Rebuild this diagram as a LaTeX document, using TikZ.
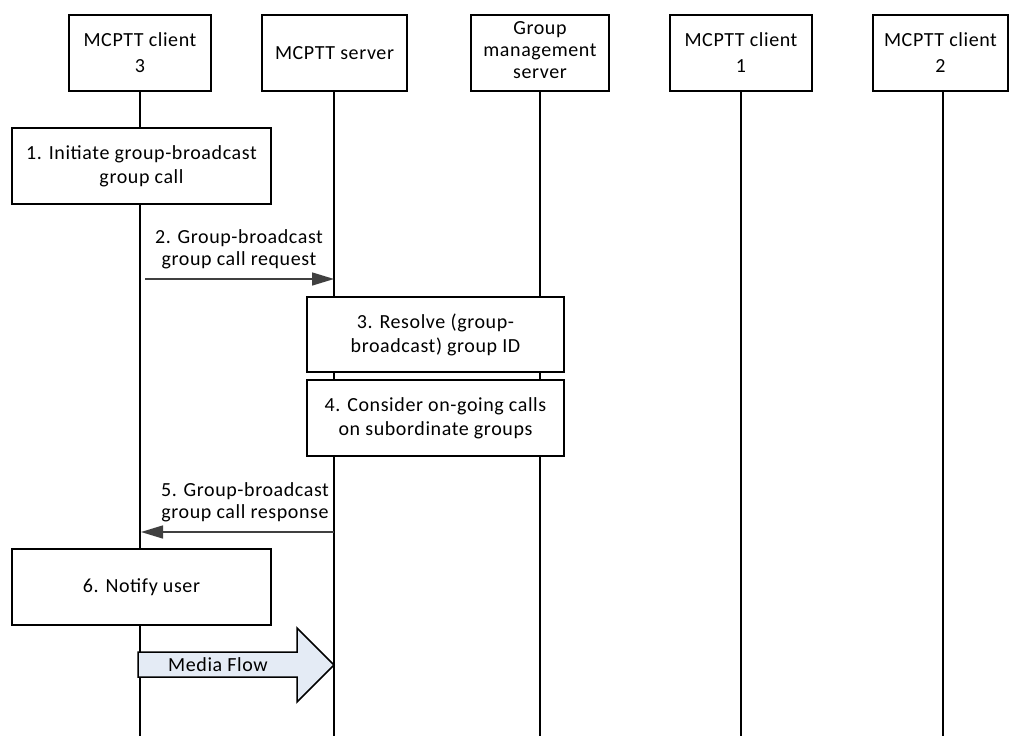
\documentclass[tikz,border=0pt]{standalone}
\usepackage{fontspec}
\setmainfont{Carlito}[LetterSpace=3]
\usetikzlibrary{arrows.meta}
\definecolor{flowfill}{HTML}{E4EBF5}
\definecolor{headgrey}{HTML}{404040}
\tikzset{
  base/.style={font=\fontsize{20bp}{22bp}\selectfont, align=center, inner sep=0pt},
  header/.style={base, draw=black, line width=1.5bp, fill=white, minimum width=142bp, minimum height=76bp},
  stepbox/.style={base, draw=black, line width=1.5bp, fill=white, minimum width=258bp, minimum height=76bp},
  lifeline/.style={draw=black, line width=1.5bp},
  msg/.style={draw=headgrey, line width=1.5bp, -{Triangle[length=22bp,width=13bp]}},
  lbl/.style={base},
  flow/.style={draw=black, line width=1.5bp, fill=flowfill, line join=miter}
}
\begin{document}
\begin{tikzpicture}[x=1bp,y=-1bp]
\useasboundingbox (0,0) rectangle (1009,736);
% lifelines (drawn first, boxes cover them)
\coordinate (e3) at (140,736);
\coordinate (es) at (334,736);
\coordinate (eg) at (540,736);
\coordinate (e1) at (741,736);
\coordinate (e2) at (943,736);
\coordinate (t3) at (140,53);
\coordinate (ts) at (334,53);
\coordinate (tg) at (540,53);
\coordinate (t1) at (741,53);
\coordinate (t2) at (943,53);
\draw[lifeline] (t3) -- (e3);
\draw[lifeline] (ts) -- (es);
\draw[lifeline] (tg) -- (eg);
\draw[lifeline] (t1) -- (e1);
\draw[lifeline] (t2) -- (e2);
% headers
\node[header] (h3) at (140,53) {MCPTT client\\[4bp]3};
\node[header, minimum width=145bp] (hs) at (334.5,53) {MCPTT server};
\node[header, minimum width=138bp] (hg) at (540,53) {};
\node[base] (hgt) at (540,50) {Group\\management\\server};
\node[header] (h1) at (741,53) {MCPTT client\\[4bp]1};
\node[header, minimum width=135bp] (h2) at (940.5,53) {MCPTT client\\[4bp]2};
% step boxes
\node[stepbox, minimum width=259bp] (b1) at (141.5,166) {1. Initiate group-broadcast\\[2bp]group call};
\node[stepbox, minimum width=257bp, minimum height=75bp] (b3) at (435.5,334.5) {3. Resolve (group-\\[2bp]broadcast) group ID};
\node[stepbox, minimum width=257bp] (b4) at (435.5,418) {4. Consider on-going calls\\[2bp]on subordinate groups};
\node[stepbox, minimum width=259bp] (b6) at (141.5,587) {6. Notify user};
% messages
\coordinate (m2s) at (145,279);
\coordinate (m2e) at (334,279);
\draw[msg] (m2s) -- (m2e);
\node[lbl] (l2) at (239,249) {2. Group-broadcast\\group call request};
\coordinate (m5s) at (334,532);
\coordinate (m5e) at (141,532);
\draw[msg] (m5s) -- (m5e);
\node[lbl] (l5) at (245,502) {5. Group-broadcast\\group call response};
% media flow
\coordinate (mf) at (334,665);
\draw[flow] (138,652) -- (297,652) -- (297,628) -- (mf) -- (297,702) -- (297,677) -- (138,677) -- cycle;
\node[lbl] (mflbl) at (218,665) {Media Flow};
\end{tikzpicture}
\end{document}
